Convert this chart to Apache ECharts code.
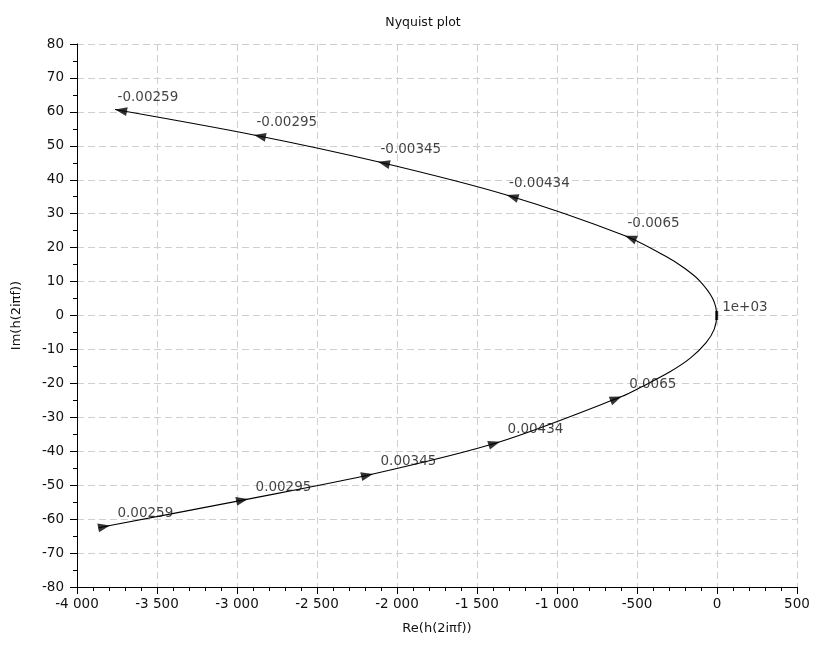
<!DOCTYPE html>
<html><head><meta charset="utf-8">
<script src="https://cdn.jsdelivr.net/npm/echarts@6/dist/echarts.min.js"></script>
<style>html,body{margin:0;padding:0;background:#fff}#c{width:816px;height:645px}</style>
</head><body><div id="c"></div>
<script>
const titleText = 'Nyquist plot';
const xName = 'Re(h(2iπf))';
const yName = 'Im(h(2iπf))';
// curve (lower-left branch -> vertex -> upper-left branch)
const curveRe = [-3865, -3794, -2931, -2150, -1356, -596, -470, -294, -165, -68, -17, -2, -27, -110, -205, -315, -575, -1315, -2119, -2894, -3762];
const curveIm = [-62.6, -61.9, -54.1, -46.7, -37.2, -23.9, -21.0, -16.6, -12.5, -8.0, -4.0, 0, 5.0, 10.3, 14.0, 17.3, 23.5, 35.5, 45.3, 53.2, 60.7];
// frequency marks (arrow tips) and their labels
const markRe = [-3794, -2931, -2150, -1356, -596, -2, -575, -1315, -2119, -2894, -3762];
const markIm = [-61.9, -54.1, -46.7, -37.2, -23.9, 0, 23.5, 35.5, 45.3, 53.2, 60.7];
const markLabel = ['0.00259', '0.00295', '0.00345', '0.00434', '0.0065', '1e+03', '-0.0065', '-0.00434', '-0.00345', '-0.00295', '-0.00259'];
const xMin = -4000, xMax = 500, xStep = 500;
const yMin = -80, yMax = 80, yStep = 10;

const FONT = "'DejaVu Sans', sans-serif";
const TXT = '#111';
function fmt(v) {
  const s = Math.abs(v).toString().replace(/\B(?=(\d{3})+(?!\d))/g, ' ');
  return (v < 0 ? '-' : '') + s;
}
const chart = echarts.init(document.getElementById('c'), null, {renderer: 'canvas'});
const curve = curveRe.map((x, i) => [x, curveIm[i]]);
const axisCommon = {
  type: 'value',
  axisLine: {onZero: false, lineStyle: {color: '#000', width: 1}},
  axisTick: {show: true, inside: false, length: 7, lineStyle: {color: '#000'}},
  minorTick: {show: true, length: 4, lineStyle: {color: '#000'}},
  splitLine: {show: true, lineStyle: {color: '#cfcfcf', type: [7, 4], width: 1}},
  axisLabel: {color: TXT, fontFamily: FONT, fontSize: 13.5},
  nameTextStyle: {color: TXT, fontFamily: FONT, fontSize: 13},
  nameLocation: 'middle'
};
const option = {
  animation: false,
  backgroundColor: '#fff',
  title: {text: titleText, left: 418, textAlign: 'center', top: 11,
    textStyle: {fontFamily: FONT, fontSize: 12.5, fontWeight: 'normal', color: TXT}},
  grid: {left: 77, right: 19, top: 44, bottom: 58, containLabel: false},
  xAxis: Object.assign({}, axisCommon, {
    min: xMin, max: xMax, interval: xStep, name: xName, nameGap: 35,
    minorTick: Object.assign({}, axisCommon.minorTick, {splitNumber: 5}),
    axisLabel: Object.assign({}, axisCommon.axisLabel, {margin: 10, formatter: fmt})
  }),
  yAxis: Object.assign({}, axisCommon, {
    min: yMin, max: yMax, interval: yStep, name: yName, nameGap: 54,
    minorTick: Object.assign({}, axisCommon.minorTick, {splitNumber: 2}),
    axisLabel: Object.assign({}, axisCommon.axisLabel, {margin: 13, formatter: fmt})
  }),
  series: [
    {type: 'line', data: curve, showSymbol: false, smooth: 0.3, smoothMonotone: null,
      lineStyle: {color: '#000', width: 1.1}, silent: true, z: 2}
  ]
};
chart.setOption(option);

// arrows oriented along the curve in pixel space
const ARW_L = 12, ARW_W = 9;
const arrowData = [], labelData = [];
markRe.forEach((x, k) => {
  const y = markIm[k];
  let i = curveRe.findIndex((cx, j) => cx === x && curveIm[j] === y);
  const prev = curve[Math.max(i - 1, 0)], next = curve[Math.min(i + 1, curve.length - 1)];
  const p0 = chart.convertToPixel({gridIndex: 0}, prev);
  const p1 = chart.convertToPixel({gridIndex: 0}, next);
  let dx = p1[0] - p0[0], dy = p1[1] - p0[1];
  const len = Math.hypot(dx, dy) || 1; dx /= len; dy /= len;
  const isVertex = markLabel[k] === '1e+03';
  const ang = Math.atan2(-dy, dx) * 180 / Math.PI;
  if (isVertex) {
    arrowData.push({value: [x, y], symbol: 'rect', symbolSize: [3, 9], symbolRotate: 0, symbolOffset: [0, 0]});
  } else {
    arrowData.push({value: [x, y], symbol: 'triangle', symbolSize: [ARW_W, ARW_L],
      symbolRotate: ang - 90, symbolOffset: [-dx * ARW_L / 2, -dy * ARW_L / 2]});
  }
  const off = isVertex ? [5, -8] : (y > 0 ? [2, -12] : [7, -12]);
  labelData.push({value: [x, y], label: {offset: off, formatter: markLabel[k]}});
});
chart.setOption({series: [
  option.series[0],
  {type: 'scatter', data: arrowData, itemStyle: {color: '#000'}, silent: true, z: 3},
  {type: 'scatter', data: labelData, symbolSize: 1, itemStyle: {color: 'rgba(0,0,0,0)'}, silent: true, z: 4,
    label: {show: true, position: 'right', distance: 0, align: 'left', verticalAlign: 'middle',
      color: TXT, fontFamily: FONT, fontSize: 13.5}}
]});
</script></body></html>
